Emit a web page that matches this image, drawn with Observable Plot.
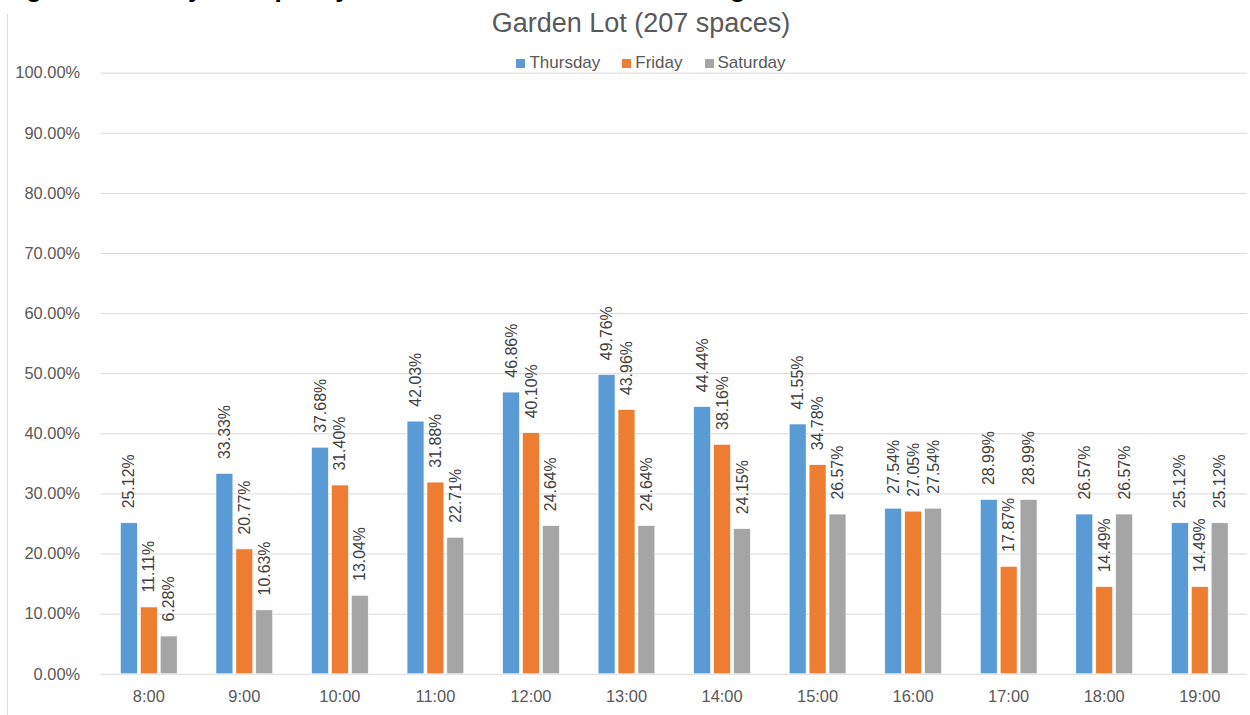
<!DOCTYPE html>
<html>
<head>
<meta charset="utf-8">
<script src="https://cdn.jsdelivr.net/npm/d3@7"></script>
<script src="https://cdn.jsdelivr.net/npm/@observablehq/plot@0.6"></script>
<style>
  html, body { margin: 0; padding: 0; background: #fff; overflow: hidden; }
  #wrap { position: relative; width: 1250px; height: 715px; overflow: hidden; font-family: "Liberation Sans", Arial, sans-serif; }
  #frame { position: absolute; left: 7px; top: 14px; bottom: 0; border-left: 1px solid #d9d9d9; }
  #fig { position: absolute; left: 3px; top: -25px; font: bold 26px "Liberation Sans", Arial, sans-serif; color: #000; white-space: nowrap; line-height: 26px; }
  #title { position: absolute; left: 0; width: 1282px; top: 8px; text-align: center; font-size: 27px; color: #595959; }
  #legend { position: absolute; left: 0; width: 1302px; top: 53px; text-align: center; font-size: 17px; color: #595959; }
  #legend span.item { margin: 0 11px; }
  #legend span.sw { display: inline-block; width: 9px; height: 9px; margin-right: 4px; }
  #chart { position: absolute; left: 0; top: 0; }
</style>
</head>
<body>
<div id="wrap">
  <div id="fig">Figure 5: Hourly Occupancy Rates at the Downtown Parking Lots</div>
  <div id="frame"></div>
  <div id="chart"></div>
  <div id="title">Garden Lot (207 spaces)</div>
  <div id="legend"></div>
</div>
<script>
// Hourly occupancy (% of 207 spaces) by day
const hours = ["8:00", "9:00", "10:00", "11:00", "12:00", "13:00", "14:00", "15:00", "16:00", "17:00", "18:00", "19:00"];
const days = ["Thursday", "Friday", "Saturday"];
const thursday = [25.12, 33.33, 37.68, 42.03, 46.86, 49.76, 44.44, 41.55, 27.54, 28.99, 26.57, 25.12];
const friday   = [11.11, 20.77, 31.40, 31.88, 40.10, 43.96, 38.16, 34.78, 27.05, 17.87, 14.49, 14.49];
const saturday = [6.28, 10.63, 13.04, 22.71, 24.64, 24.64, 24.15, 26.57, 27.54, 28.99, 26.57, 25.12];
const yTicks = [0, 10, 20, 30, 40, 50, 60, 70, 80, 90, 100];
const colors = ["#5B9BD5", "#ED7D31", "#A5A5A5"];

const series = [thursday, friday, saturday];
const rows = [];
hours.forEach((h, i) => days.forEach((d, j) => rows.push({hour: h, day: d, value: series[j][i]})));

const fmt = v => v.toFixed(2) + "%";

const chart = Plot.plot({
  width: 1256,
  height: 715,
  marginLeft: 97,
  marginRight: 0,
  marginTop: 73,
  marginBottom: 38,
  style: {fontFamily: "'Liberation Sans', Arial, sans-serif", fontSize: "16.5px", color: "#595959", background: "transparent"},
  fx: {domain: hours, padding: 0, axis: "bottom", tickSize: 0, tickPadding: 16, label: null},
  x: {domain: days, axis: null, paddingInner: 0.15, paddingOuter: 0.93},
  y: {domain: [0, 100], ticks: yTicks, tickFormat: fmt, tickSize: 0, tickPadding: 21, label: null},
  color: {domain: days, range: colors},
  marks: [
    Plot.ruleY(yTicks, {stroke: "#d9d9d9", strokeWidth: 1}),
    Plot.barY(rows, {fx: "hour", x: "day", y: "value", fill: "day", stroke: "#fff", strokeWidth: 0.6}),
    Plot.text(rows, {
      fx: "hour", x: "day", y: "value", text: d => fmt(d.value),
      rotate: -90, textAnchor: "start", lineAnchor: "middle", dy: -15,
      fill: "#404040", fontSize: 16
    })
  ]
});
document.getElementById("chart").appendChild(chart);

// Legend row
const legend = document.getElementById("legend");
days.forEach((d, i) => {
  const item = document.createElement("span");
  item.className = "item";
  const sw = document.createElement("span");
  sw.className = "sw";
  sw.style.background = colors[i];
  item.appendChild(sw);
  item.appendChild(document.createTextNode(d));
  legend.appendChild(item);
});
</script>
</body>
</html>
